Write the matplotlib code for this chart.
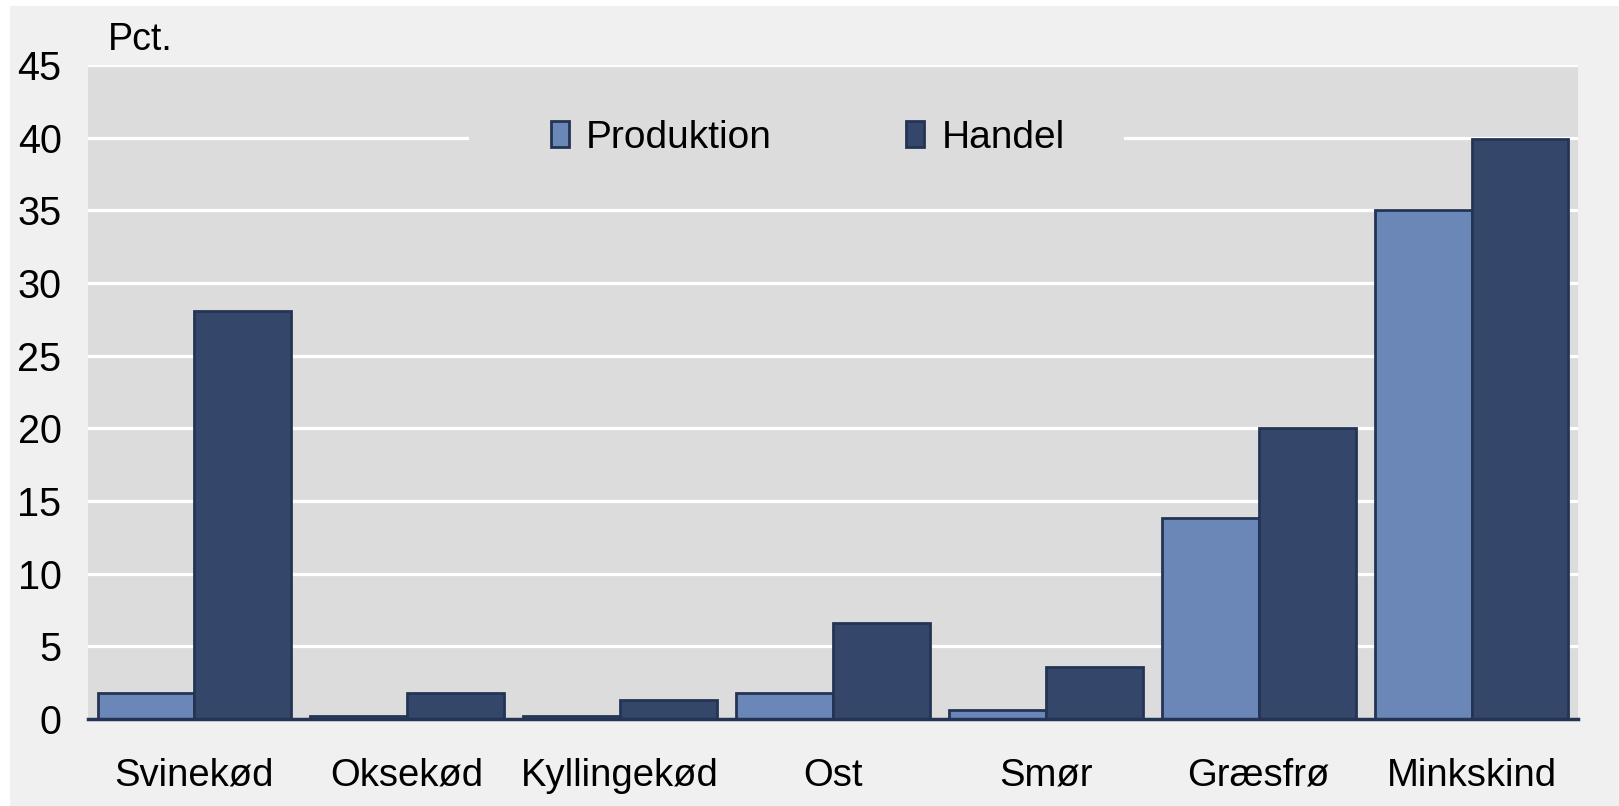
import numpy as np
import matplotlib
matplotlib.use("Agg")
import matplotlib.pyplot as plt
from matplotlib.patches import Rectangle

plt.rcParams['font.family'] = ['Liberation Sans', 'DejaVu Sans']

categories = ["Svinekød", "Oksekød", "Kyllingekød", "Ost", "Smør", "Græsfrø", "Minkskind"]
produktion = [1.8, 0.2, 0.2, 1.8, 0.6, 13.8, 35.0]
handel = [28.1, 1.8, 1.3, 6.6, 3.6, 20.0, 39.9]
yticks = [0, 5, 10, 15, 20, 25, 30, 35, 40, 45]

col_prod = "#6b87b7"
col_hand = "#34476a"
col_edge = "#243454"

fig = plt.figure(figsize=(16.19, 8.06), dpi=100, facecolor="white")
# grey panel behind everything
fig.patches.append(Rectangle((10 / 1619, 0), 1, 1 - 6 / 806, transform=fig.transFigure,
                             facecolor="#f0f0f0", edgecolor="none", zorder=-10))

ax = fig.add_axes([88 / 1619, 1 - 719 / 806, (1578 - 88) / 1619, (719 - 65) / 806])
ax.set_facecolor("#dcdcdc")

x = np.arange(len(categories))
w = 0.455
ax.bar(x - w / 2, produktion, w, color=col_prod, edgecolor=col_edge, linewidth=2.0,
       label="Produktion", zorder=3)
ax.bar(x + w / 2, handel, w, color=col_hand, edgecolor=col_edge, linewidth=2.0,
       label="Handel", zorder=3)

ax.set_xlim(-0.5, len(categories) - 0.5)
ax.set_ylim(0, 45)
ax.set_yticks(yticks)
ax.set_yticklabels([str(t) for t in yticks], fontsize=28.5)
ax.set_xticks(x)
ax.set_xticklabels(categories, fontsize=27.5)
ax.tick_params(axis="both", length=0)
ax.tick_params(axis="y", pad=19)
ax.tick_params(axis="x", pad=28)

for t in yticks[1:]:
    ax.axhline(t, color="white", linewidth=2.3, zorder=1)

# legend background gap in the 40 gridline
ax.add_patch(Rectangle((0.2555, 0.85), 0.4395, 0.08, transform=ax.transAxes,
                       facecolor="#dcdcdc", edgecolor="none", zorder=2))

for s in ["top", "left", "right"]:
    ax.spines[s].set_visible(False)
ax.spines["bottom"].set_color(col_edge)
ax.spines["bottom"].set_linewidth(2.5)
ax.spines["bottom"].set_zorder(4)

leg = ax.legend(ncol=2, loc="center", bbox_to_anchor=(0.483, 0.889), fontsize=28,
                frameon=False, handlelength=0.46, handleheight=0.62, handletextpad=0.45,
                columnspacing=3.45, borderpad=0.2, borderaxespad=0)
leg.set_zorder(5)

fig.text(108 / 1619, 1 - 50 / 806, "Pct.", fontsize=27, ha="left", va="baseline")

fig.savefig("out.png", dpi=100, facecolor=fig.get_facecolor())
